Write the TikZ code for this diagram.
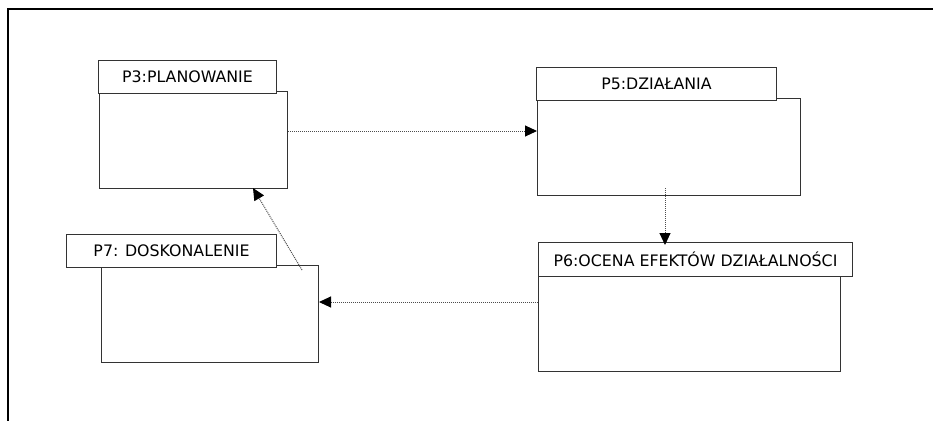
\documentclass[tikz,border=0pt]{standalone}
\usepackage{fontspec}
\setmainfont{DejaVu Sans}
\usetikzlibrary{arrows.meta}
\tikzset{
  body/.style={draw=black!80, line width=1pt, fill=white, anchor=north west, inner sep=0pt},
  title/.style={draw=black!80, line width=1pt, fill=white, anchor=north west, inner sep=0pt,
    minimum height=33pt, font=\fontsize{15.8}{18}\selectfont},
  flow/.style={draw=black!70, line width=1pt, dash pattern=on 1pt off 1pt,
    -{Triangle[length=12pt,width=11pt,color=black,fill=black]}}
}
\begin{document}
\begin{tikzpicture}[x=1pt,y=-1pt]
\useasboundingbox (0,0) rectangle (933,420);
% frame
\draw[line width=2pt] (8,421) -- (8,9) -- (934,9);
% boxes
\node[body, minimum width=188pt, minimum height=97pt] (p3body) at (99,91) {};
\node[title, minimum width=178pt] (p3) at (98,60) {P3:PLANOWANIE};
\node[body, minimum width=263pt, minimum height=97pt] (p5body) at (537,98) {};
\node[title, minimum width=240pt] (p5) at (536,67) {P5:DZIAŁANIA};
\node[body, minimum width=217pt, minimum height=97pt] (p7body) at (101,265) {};
\node[title, minimum width=210pt] (p7) at (66,234) {P7: DOSKONALENIE};
\node[body, minimum width=302pt, minimum height=95pt] (p6body) at (538,276) {};
\node[title, minimum width=314pt, minimum height=34pt] (p6) at (538,242) {P6:OCENA EFEKTÓW DZIAŁALNOŚCI};
% connectors
\coordinate (p3out) at (p3body.east |- 0,131);
\coordinate (p5in) at (p5body.west |- 0,131);
\coordinate (p5out) at (665,188);
\coordinate (p6in) at (665,245);
\coordinate (p6out) at (p6body.west |- 0,302);
\coordinate (p7in) at (p7body.east |- 0,302);
\coordinate (p7out) at (302,270);
\coordinate (p3in) at (253,188);
\draw[flow] (p3out) -- (p5in);
\draw[flow] (p5out) -- (p6in);
\draw[flow] (p6out) -- (p7in);
\draw[flow] (p7out) -- (p3in);
\end{tikzpicture}
\end{document}
